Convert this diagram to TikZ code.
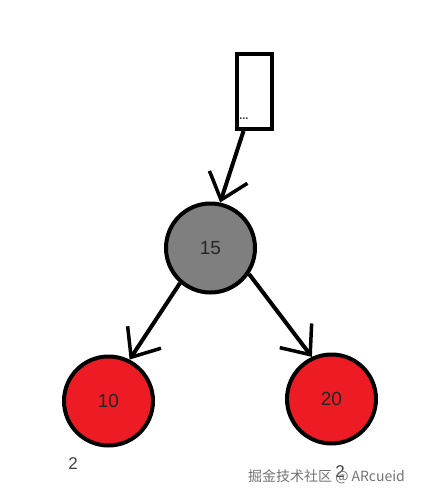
\documentclass[tikz,border=0pt]{standalone}
\usepackage{fontspec}
\setmainfont{Liberation Sans}
\newfontfamily\cjkfont{Noto Sans CJK SC}
\usepackage{xcolor}
\usepackage{tikz}
\usetikzlibrary{arrows.meta, positioning}
\definecolor{paintred}{HTML}{ED1C24}
\definecolor{paintgray}{HTML}{7F7F7F}

\begin{document}
\begin{tikzpicture}[line width=4pt, on grid,
        treenode/.style={circle, draw, minimum size=89pt, inner sep=0pt,
            font=\fontsize{19}{19}\selectfont, text=black!85},
        barb/.style={-{Straight Barb[length=24pt, width=40pt, line width=3.5pt]}}]
        \useasboundingbox (0pt,0pt) rectangle (422pt,-499pt);
        \node[draw, minimum width=35pt, minimum height=75pt, inner sep=0pt] (box) at (254.5pt,-91.5pt) {};
        \node[font=\bfseries\fontsize{11}{11}\selectfont, text=black!80, inner sep=0pt] (dots) [above left=10pt and 4pt of box.south] {...};
        \node[treenode, fill=paintgray] (n15) [below left=156.5pt and 44pt of box] {15};
        \node[treenode, fill=paintred] (n10) [below left=153pt and 102pt of n15] {\raisebox{-5pt}{10}};
        \node[treenode, fill=paintred] (n20) [below right=151pt and 121pt of n15] {20};
        \node[font=\fontsize{17}{17}\selectfont, text=black!75] (h10) [below left=63pt and 35.5pt of n10] {2};
        \node[font=\fontsize{17}{17}\selectfont, text=black!75] (h20) [below right=73pt and 8.5pt of n20] {2};
        \node[font=\cjkfont\fontsize{14}{14}\selectfont, text=black!55] (mark) at (326.5pt,-477pt) {掘金技术社区 @ ARcueid};

        \draw[barb] ([xshift=-11pt]box.south) -- (n15.78);
        \draw[barb] (n15.229) -- (n10.63);
        \draw[barb] (n15.326) -- (n20.115);
\end{tikzpicture}
\end{document}
